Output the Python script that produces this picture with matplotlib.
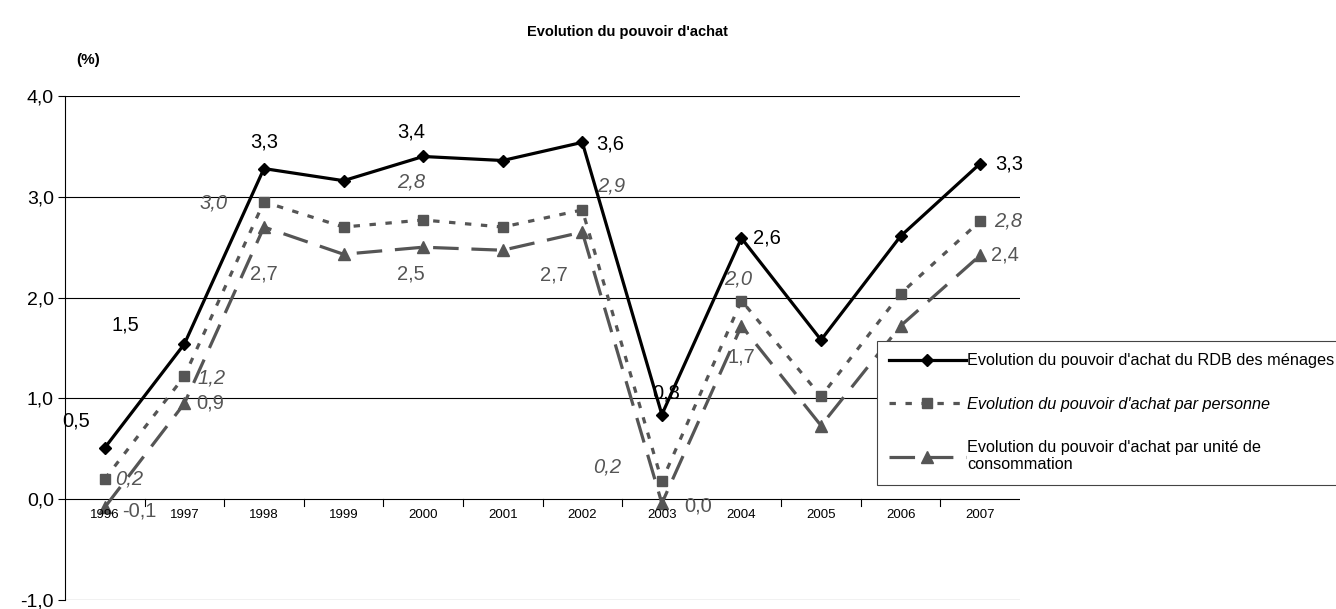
import matplotlib.pyplot as plt
import numpy as np

plt.rcParams['font.family'] = ['Liberation Sans', 'DejaVu Sans']

years = ['1996', '1997', '1998', '1999', '2000', '2001', '2002', '2003',
         '2004', '2005', '2006', '2007']
rdb = [0.51, 1.54, 3.28, 3.16, 3.40, 3.36, 3.54, 0.84, 2.59, 1.58, 2.61, 3.33]
par_personne = [0.20, 1.22, 2.95, 2.70, 2.77, 2.70, 2.87, 0.18, 1.97, 1.02, 2.04, 2.76]
par_uc = [-0.08, 0.95, 2.70, 2.43, 2.50, 2.47, 2.65, -0.04, 1.72, 0.73, 1.72, 2.42]

names = ["Evolution du pouvoir d'achat du RDB des ménages",
         "Evolution du pouvoir d'achat par personne",
         "Evolution du pouvoir d'achat par unité de\nconsommation"]

# labelled points: (index, text, dx, dy) offsets in pixels
lab_rdb = [(0, '0,5', -29, 27), (1, '1,5', -59, 19), (2, '3,3', 0, 27),
           (4, '3,4', -12, 24), (6, '3,6', 28, -2), (7, '0,8', 4, 22),
           (8, '2,6', 25, 0), (11, '3,3', 29, 0)]
lab_pers = [(0, '0,2', 24, 0), (1, '1,2', 27, -2), (2, '3,0', -50, -1),
            (4, '2,8', -12, 38), (6, '2,9', 29, 24), (7, '0,2', -55, 14),
            (8, '2,0', -3, 22), (11, '2,8', 28, 0)]
lab_uc = [(0, '-0,1', 35, -4), (1, '0,9', 26, 0), (2, '2,7', 0, -47),
          (4, '2,5', -12, -27), (6, '2,7', -28, -43), (7, '0,0', 36, -3),
          (8, '1,7', 0, -31), (11, '2,4', 25, 0)]

fig = plt.figure(figsize=(13.36, 6.09), dpi=100)
ax = fig.add_axes([65 / 1336, 9 / 609, 955 / 1336, 504 / 609])
x = np.arange(len(years))
grey = '#555555'

ax.plot(x, rdb, color='black', lw=2.3, marker='D', ms=6.5, label=names[0], zorder=5)
ax.plot(x, par_personne, color=grey, lw=2.3, ls=(0, (2, 3)), marker='s', ms=7.5,
        label=names[1], zorder=4)
ax.plot(x, par_uc, color=grey, lw=2.3, ls=(0, (8, 4)), marker='^', ms=9,
        label=names[2], zorder=3)

for series, labs, col, style in [(rdb, lab_rdb, 'black', 'normal'),
                                 (par_personne, lab_pers, grey, 'italic'),
                                 (par_uc, lab_uc, grey, 'normal')]:
    for i, t, dx, dy in labs:
        ax.annotate(t, (x[i], series[i]), xytext=(dx, dy), textcoords='offset pixels',
                    ha='center', va='center', fontsize=14.5, color=col, style=style)

ax.set_xlim(-0.5, len(years) - 0.5)
ax.set_ylim(-1.0, 4.0)
ax.set_yticks([-1, 0, 1, 2, 3, 4])
ax.set_yticklabels(['-1,0', '0,0', '1,0', '2,0', '3,0', '4,0'], fontsize=14)
for v in [-1, 0, 1, 2, 3, 4]:
    ax.axhline(v, color='black', lw=0.8, zorder=1)
for s in ['top', 'right', 'bottom']:
    ax.spines[s].set_visible(False)
ax.spines['left'].set_color('black')
ax.spines['left'].set_linewidth(0.8)
ax.tick_params(axis='y', length=5, width=0.8, pad=3)

ax.set_xticks([])
for b in np.arange(0.5, len(years) - 0.5):
    ax.plot([b, b], [0, -0.07], color='black', lw=0.8, clip_on=False)
for i, yr in enumerate(years):
    ax.text(i, -0.1, yr, ha='center', va='top', fontsize=9.5)

leg = ax.legend(loc='upper left', bbox_to_anchor=((877 - 65) / 955, (604 - 345) / 504),
                borderaxespad=0, fontsize=11.7, frameon=True, fancybox=False,
                edgecolor='#444444', framealpha=1, handlelength=4.7,
                labelspacing=1.75, borderpad=0.75, handletextpad=0.1)
leg.get_frame().set_linewidth(0.8)
leg.get_texts()[1].set_style('italic')

fig.text(627 / 1336, 1 - 32 / 609, "Evolution du pouvoir d'achat", ha='center', va='center',
         fontsize=10.5, fontweight='bold')
fig.text(88 / 1336, 1 - 60 / 609, '(%)', ha='center', va='center', fontsize=11,
         fontweight='bold')

fig.savefig('out.png', dpi=100)
